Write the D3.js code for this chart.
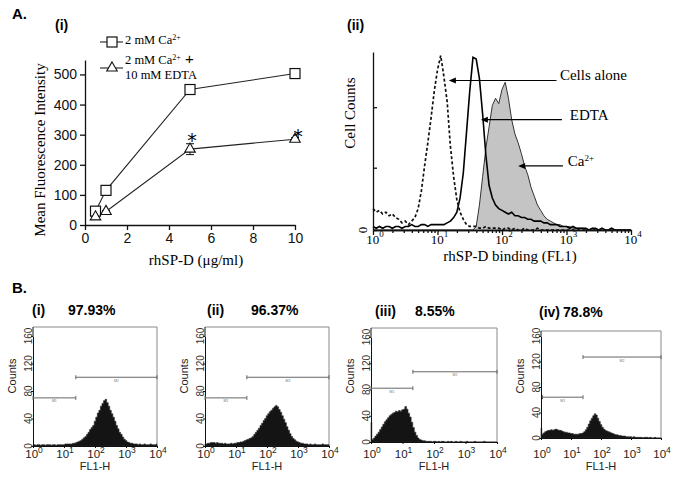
<!DOCTYPE html>
<html><head><meta charset="utf-8">
<script src="https://cdn.jsdelivr.net/npm/d3@7"></script>
<style>body{margin:0;background:#fff}svg{display:block}</style>
</head><body>
<svg id="c" width="676" height="479"></svg>
<script>
// ================= DATA =================
// Panel A(i)
const concentrations = [0.5, 1, 5, 10];
const caValues   = [46, 115, 450, 503];
const caErrors   = [3, 4, 4, 4];
const edtaValues = [27, 45, 252, 285];
const edtaErrors = [3, 3, 18, 5];
const yTicksA = [0, 100, 200, 300, 400, 500];
const xTicksA = [0, 2, 4, 6, 8, 10];
const legendLabels = ["2 mM Ca", "2 mM Ca", "10 mM EDTA"];

// Panel A(ii) histograms: counts (relative, 0-100) on log10 bins of width 0.05 from 10^0 to 10^4
const logStep = 0.05;
const cellsAloneHist = [12,10,11,9,10,8,9,7,6,4,5,3,5,7,12,
  22,36,49,63,78,90,98,86,72,47,30,17,10,6,3,2,2,2,
  1,1,2,1,1,1,1,0,1,1,0,1,0,0,1,0,0,0,1,0,0,0,0,0,
  0,0,0,0,0,0,0,0,0,0,0,0,0,0,0,0,0,0,0,0,0,0,0,0];
const edtaHist = [2,1,2,1,2,2,1,2,2,1,2,2,3,2,2,3,3,2,3,3,3,3,3,
  4,5,7,10,18,32,55,78,97,96,85,65,42,25,18,14,12,11,10,9,10,8,8,7,7,6,6,5,5,5,4,4,3,3,3,2,2,2,
  1,2,1,1,1,1,0,1,1,0,1,0,0,1,0,0,0,0,0,0];
const caHist = [0,0,0,0,0,0,0,0,0,0,0,0,0,0,0,0,0,0,0,0,0,0,0,0,0,0,0,0,0,0,0,0,
  2,14,30,46,58,70,74,71,79,83,74,62,54,49,43,36,31,24,19,14,11,8,6,5,4,3,3,2,2,2,1,1,1,
  1,0,0,1,0,0,0,0,0,0,0,0,0,0,0,0];
const decadeTicks = [1, 10, 100, 1000, 10000];
const histYTicks = [0, 35, 69];
const annotations = [
  {label: "Cells alone", sup: "", tip: [15, 84], from: 700, textAt: 790},
  {label: "EDTA", sup: "", tip: [47, 62], from: 850, textAt: 1125},
  {label: "Ca", sup: "2+", tip: [178, 36], from: 880, textAt: 1050}
];

// Panel B histograms: Counts on log10 bins of width 0.05 from 10^0 to 10^4
const histB1 = [2,2,1,2,2,1,2,2,1,2,2,2,1,2,2,1,2,2,2,2,2,3,3,3,3,
  3,4,4,5,6,7,8,10,12,14,17,20,24,27,30,36,42,48,52,58,62,66,68,63,58,52,47,42,36,30,25,20,17,13,10,8,6,5,4,4,3,3,
  3,2,3,2,2,3,2,2,2,3,2,2,2,3];
const histB2 = [3,3,4,4,5,5,5,4,5,4,4,4,3,4,3,3,3,4,3,4,4,5,5,6,6,
  7,8,9,10,11,12,14,17,20,23,26,30,33,37,40,44,47,50,52,55,57,59,57,53,49,44,39,34,28,23,18,14,11,9,7,6,5,4,4,3,3,3,
  2,3,2,2,3,2,2,2,2,3,2,2,2,2];
const histB3 = [30,4,6,9,12,15,19,23,27,31,34,37,40,42,44,45,47,46,48,47,49,50,54,50,44,38,30,22,15,10,6,4,3,2,2,1,1,
  1,1,0,1,1,0,1,0,1,1,0,0,1,0,1,0,0,1,0,0,1,0,0,0,1,0,0,0,0,1,0,0,0,0,0,1,0,0,0,0,0,0,0,0];
const histB4 = [16,6,8,10,11,12,12,13,12,13,14,13,12,12,11,10,9,9,8,8,7,7,6,6,6,6,7,7,8,10,
  13,17,22,27,31,35,38,36,31,26,21,17,14,12,11,10,9,8,7,6,5,5,4,4,3,3,3,2,2,2,2,
  1,2,1,1,1,1,1,0,1,1,1,0,1,0,0,1,0,0,0,0];
const countTicks = [0, 40, 80, 120, 160];
const bTitles = ["(i)", "(ii)", "(iii)", "(iv)"];
const bPercents = ["97.93%", "96.37%", "8.55%", "78.8%"];
// gates: [startLog, endLog, level(count)]
const bGates = [
  [[0, 1.38, 70], [1.38, 4, 100]],
  [[0, 1.35, 70], [1.35, 4, 100]],
  [[0, 1.33, 82], [1.33, 4, 107]],
  [[0.05, 1.4, 64], [1.4, 4, 127]]
];
const gateNames = ["M1", "M2"];

// ================= DRAWING =================
const svg = d3.select("#c");
const serif = "'Liberation Serif','Times New Roman',serif";
const sans = "'Liberation Sans',Arial,sans-serif";

function supText(sel, x, y, base, sup, o) {
  const t = sel.append("text").attr("x", x).attr("y", y)
    .attr("font-family", o.family).attr("font-size", o.size)
    .attr("text-anchor", o.anchor || "start").attr("fill", o.fill || "#000");
  if (o.weight) t.attr("font-weight", o.weight);
  t.append("tspan").text(base);
  if (sup) t.append("tspan").attr("font-size", o.supSize).attr("dy", -o.supRise).text(sup);
  if (o.after) t.append("tspan").attr("dy", o.supRise).attr("font-size", o.afterSize || o.size)
      .attr("font-family", o.afterFamily || o.family).text(o.after);
  return t;
}
function plain(sel, x, y, s, o) {
  const t = sel.append("text").attr("x", x).attr("y", y).text(s)
    .attr("font-family", o.family).attr("font-size", o.size)
    .attr("text-anchor", o.anchor || "start").attr("fill", o.fill || "#000");
  if (o.weight) t.attr("font-weight", o.weight);
  if (o.rotate) t.attr("transform", `rotate(-90,${x},${y})`);
  return t;
}

// panel letters
plain(svg, 12, 19, "A.", {family: sans, size: 15, weight: "bold"});
plain(svg, 55, 30, "(i)", {family: sans, size: 14, weight: "bold"});
plain(svg, 347, 30, "(ii)", {family: sans, size: 14, weight: "bold"});
plain(svg, 12, 293, "B.", {family: sans, size: 15, weight: "bold"});

// ---------- A(i) ----------
{
  const g = svg.append("g");
  const x = d3.scaleLinear().domain([0, 10]).range([85, 295]);
  const y = d3.scaleLinear().domain([0, 548]).range([225, 60]);
  const ax = g.append("g").attr("transform", "translate(0,225)")
    .call(d3.axisBottom(x).tickValues(xTicksA).tickSize(5).tickSizeOuter(0).tickPadding(3));
  const ay = g.append("g").attr("transform", "translate(85,0)")
    .call(d3.axisLeft(y).tickValues(yTicksA).tickSize(5).tickSizeOuter(0).tickPadding(3));
  [ax, ay].forEach(a => {
    a.selectAll("path,line").attr("stroke", "#111").attr("stroke-width", 1.3);
    a.selectAll("text").attr("font-family", sans).attr("font-size", 14).attr("fill", "#111");
  });
  const line = d3.line().x((d, i) => x(concentrations[i])).y(d => y(d));
  g.append("path").attr("d", line(caValues)).attr("fill", "none").attr("stroke", "#222").attr("stroke-width", 1.1);
  g.append("path").attr("d", line(edtaValues)).attr("fill", "none").attr("stroke", "#222").attr("stroke-width", 1.1);
  // error bars
  [[caValues, caErrors], [edtaValues, edtaErrors]].forEach(([vals, errs]) => {
    vals.forEach((v, i) => {
      const cx = x(concentrations[i]);
      g.append("line").attr("x1", cx).attr("x2", cx).attr("y1", y(v - errs[i])).attr("y2", y(v + errs[i]))
        .attr("stroke", "#222").attr("stroke-width", 1.1);
      [v - errs[i], v + errs[i]].forEach(e => g.append("line").attr("x1", cx - 4).attr("x2", cx + 4)
        .attr("y1", y(e)).attr("y2", y(e)).attr("stroke", "#222").attr("stroke-width", 1.1));
    });
  });
  // markers
  caValues.forEach((v, i) => g.append("rect").attr("x", x(concentrations[i]) - 5).attr("y", y(v) - 5)
    .attr("width", 10).attr("height", 10).attr("fill", "#fff").attr("stroke", "#111").attr("stroke-width", 1.2));
  const tri = d3.symbol(d3.symbolTriangle, 48);
  edtaValues.forEach((v, i) => g.append("path").attr("d", tri())
    .attr("transform", `translate(${x(concentrations[i])},${y(v)})`)
    .attr("fill", "#fff").attr("stroke", "#111").attr("stroke-width", 1.1));
  // asterisks
  const star = "'DejaVu Sans',sans-serif";
  plain(g, x(5) + 2, y(edtaValues[2] + edtaErrors[2]) + 3, "*", {family: star, size: 19, anchor: "middle", fill: "#000"});
  plain(g, x(10) + 3, y(edtaValues[3]) + 4, "*", {family: star, size: 19, anchor: "middle", fill: "#000"});
  // axis titles
  plain(g, 45, 150, "Mean Fluorescence Intensity", {family: serif, size: 15, anchor: "middle", rotate: true});
  plain(g, 196, 265, "rhSP-D (μg/ml)", {family: serif, size: 15, anchor: "middle"});
  // legend
  g.append("line").attr("x1", 100).attr("x2", 123).attr("y1", 42).attr("y2", 42).attr("stroke", "#222").attr("stroke-width", 1.1);
  g.append("rect").attr("x", 107).attr("y", 37).attr("width", 10).attr("height", 10).attr("fill", "#fff").attr("stroke", "#111").attr("stroke-width", 1.2);
  supText(g, 125, 44, legendLabels[0], "2+", {family: serif, size: 12.5, supSize: 8, supRise: 4});
  g.append("line").attr("x1", 100).attr("x2", 123).attr("y1", 68).attr("y2", 68).attr("stroke", "#222").attr("stroke-width", 1.1);
  g.append("path").attr("d", tri()).attr("transform", "translate(112,68)").attr("fill", "#fff").attr("stroke", "#111").attr("stroke-width", 1.1);
  supText(g, 125, 64, legendLabels[1], "2+", {family: serif, size: 12.5, supSize: 8, supRise: 4, after: " +", afterSize: 15, afterFamily: sans});
  plain(g, 125, 79, legendLabels[2], {family: serif, size: 12.5});
}

// ---------- A(ii) ----------
{
  const g = svg.append("g");
  const x = d3.scaleLog().domain([1, 1e4]).range([373, 631]);
  const y = d3.scaleLinear().domain([0, 100]).range([230, 52]);
  const bx = (d, i) => x(Math.pow(10, i * logStep));
  // Ca filled
  g.append("path").attr("d", d3.area().x(bx).y0(y(0)).y1(d => y(d))(caHist))
    .attr("fill", "#c4c4c4").attr("stroke", "none");
  g.append("path").attr("d", d3.line().x(bx).y(d => y(d))(caHist))
    .attr("fill", "none").attr("stroke", "#333").attr("stroke-width", 1);
  g.append("path").attr("d", d3.line().x(bx).y(d => y(d))(edtaHist))
    .attr("fill", "none").attr("stroke", "#000").attr("stroke-width", 1.6);
  g.append("path").attr("d", d3.line().x(bx).y(d => y(d))(cellsAloneHist))
    .attr("fill", "none").attr("stroke", "#111").attr("stroke-width", 1.7).attr("stroke-dasharray", "3,2.2");
  // axes
  const minor = [];
  for (let e = 0; e < 4; e++) for (let m = 2; m <= 9; m++) minor.push(m * Math.pow(10, e));
  const axMinor = g.append("g").attr("transform", "translate(0,230)")
    .call(d3.axisBottom(x).tickValues(minor).tickSize(3).tickFormat("").tickSizeOuter(0));
  const ax = g.append("g").attr("transform", "translate(0,230)")
    .call(d3.axisBottom(x).tickValues(decadeTicks).tickSize(5).tickFormat("").tickSizeOuter(0));
  const ay = g.append("g").attr("transform", "translate(373,0)")
    .call(d3.axisRight(y).tickValues(histYTicks).tickSize(4).tickFormat("").tickSizeOuter(0));
  [ax, ay, axMinor].forEach(a => a.selectAll("path,line").attr("stroke", "#111").attr("stroke-width", 1.3));
  decadeTicks.forEach((v, i) => supText(g, x(v) + 2, 244, "10", String(i),
    {family: serif, size: 13, supSize: 9, supRise: 7, anchor: "middle"}));
  plain(g, 367, y(0), "0", {family: serif, size: 13, anchor: "middle", rotate: true});
  plain(g, 355, 113, "Cell Counts", {family: serif, size: 15, anchor: "middle", rotate: true});
  plain(g, 510, 261, "rhSP-D binding (FL1)", {family: serif, size: 15, anchor: "middle"});
  // arrows
  annotations.forEach(a => {
    const ty = y(a.tip[1]);
    g.append("line").attr("x1", x(a.from)).attr("x2", x(a.tip[0]) + 3).attr("y1", ty).attr("y2", ty)
      .attr("stroke", "#000").attr("stroke-width", 1.2);
    g.append("path").attr("d", `M${x(a.tip[0])},${ty}l7,-3l0,6z`).attr("fill", "#000");
    supText(g, x(a.textAt), ty, a.label, a.sup, {family: serif, size: 15, supSize: 9, supRise: 5});
  });
}

// ---------- B panels ----------
const bLayout = [
  {left: 33, right: 157, top: 327, bottom: 446, y160: 336, tx: 32, px: 68, ty: 315},
  {left: 205, right: 329, top: 327, bottom: 446, y160: 336, tx: 207, px: 251, ty: 315},
  {left: 371, right: 497, top: 328, bottom: 442, y160: 337, tx: 375, px: 415, ty: 316},
  {left: 541, right: 661, top: 331, bottom: 438, y160: 336, tx: 539, px: 563, ty: 317}
];
const bHists = [histB1, histB2, histB3, histB4];
bLayout.forEach((L, k) => {
  const g = svg.append("g");
  const x = d3.scaleLog().domain([1, 1e4]).range([L.left, L.right]);
  const y = d3.scaleLinear().domain([0, 160]).range([L.bottom, L.y160]);
  const bx = (d, i) => x(Math.pow(10, i * logStep));
  // frame top/right gray
  g.append("path").attr("d", `M${L.left},${L.top}H${L.right}V${L.bottom}`).attr("fill", "none")
    .attr("stroke", "#8a8a8a").attr("stroke-width", 1);
  // histogram
  g.append("path").attr("d", d3.area().x(bx).y0(y(0)).y1(d => y(d)).curve(d3.curveStep)(bHists[k]))
    .attr("fill", "#141414").attr("stroke", "#2a2a2a").attr("stroke-width", 0.6);
  // axes
  const ax = g.append("g").attr("transform", `translate(0,${L.bottom})`)
    .call(d3.axisBottom(x).tickValues(decadeTicks).tickSize(2).tickFormat("").tickSizeOuter(0));
  const ay = g.append("g").attr("transform", `translate(${L.left},0)`)
    .call(d3.axisLeft(y).tickValues(countTicks).tickSize(2).tickFormat("").tickSizeOuter(0));
  g.append("line").attr("x1", L.left).attr("x2", L.left).attr("y1", L.top).attr("y2", y(160)).attr("stroke", "#111");
  [ax, ay].forEach(a => a.selectAll("path,line").attr("stroke", "#111").attr("stroke-width", 1));
  countTicks.forEach(v => plain(g, L.left - 1, y(v), String(v),
    {family: sans, size: 10, anchor: "middle", rotate: true, fill: "#333"}));
  decadeTicks.forEach((v, i) => supText(g, x(v) + 1, 458, "10", String(i),
    {family: sans, size: 11.5, supSize: 8.5, supRise: 5, anchor: "middle", fill: "#222"}));
  plain(g, (L.left + L.right) / 2, 470, "FL1-H", {family: sans, size: 11, anchor: "middle", fill: "#222"});
  plain(g, L.left - 17, 376, "Counts", {family: sans, size: 11, anchor: "middle", rotate: true, fill: "#222"});
  // gates
  bGates[k].forEach((gt, j) => {
    const x1 = x(Math.pow(10, gt[0])), x2 = x(Math.pow(10, gt[1])), gy = y(gt[2]);
    g.append("line").attr("x1", x1).attr("x2", x2).attr("y1", gy).attr("y2", gy).attr("stroke", "#666").attr("stroke-width", 1);
    [x1, x2].forEach(xx => g.append("line").attr("x1", xx).attr("x2", xx).attr("y1", gy - 2).attr("y2", gy + 2)
      .attr("stroke", "#666").attr("stroke-width", 1));
    plain(g, (x1 + x2) / 2, gy + 4.5, gateNames[j], {family: sans, size: 3.5, anchor: "middle", fill: "#777"});
  });
  plain(g, L.tx, L.ty, bTitles[k], {family: sans, size: 14, weight: "bold"});
  plain(g, L.px, L.ty, bPercents[k], {family: sans, size: 14, weight: "bold"});
});
</script>
</body></html>
